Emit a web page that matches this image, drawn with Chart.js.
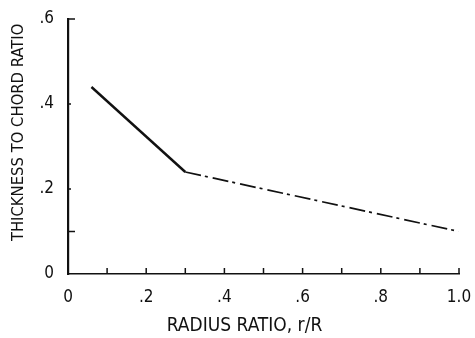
<!DOCTYPE html>
<html><head><meta charset="utf-8">
<script src="https://cdn.jsdelivr.net/npm/chart.js@4/dist/chart.umd.min.js"></script>
<style>html,body{margin:0;padding:0;background:#fff}#w{width:475px;height:338px}</style>
</head><body><div id="w"><canvas id="c"></canvas></div>
<script>
const radiusRatio = [0.06, 0.30, 1.00];
const thicknessRatio = [0.44, 0.24, 0.10];
const xTickValues = [0, 0.1, 0.2, 0.3, 0.4, 0.5, 0.6, 0.7, 0.8, 0.9, 1.0];
const xTickLabels = {0: '0', 0.2: '.2', 0.4: '.4', 0.6: '.6', 0.8: '.8', 1: '1.0'};
const yTickLabels = {0: '0', 0.2: '.2', 0.4: '.4', 0.6: '.6'};
const yMinorTicks = [0.1, 0.2, 0.4, 0.6];

const FONT = '"DejaVu Sans Condensed", "DejaVu Sans", sans-serif';

const tickPlugin = {
  id: 'innerTicks',
  afterDraw(chart) {
    const ctx = chart.ctx, xs = chart.scales.x, ys = chart.scales.y;
    ctx.save();
    ctx.strokeStyle = '#111';
    ctx.lineWidth = 1.5;
    const y0 = ys.getPixelForValue(0), x0 = xs.getPixelForValue(0);
    xTickValues.forEach(v => {
      if (v === 0) return;
      const px = xs.getPixelForValue(v);
      ctx.beginPath(); ctx.moveTo(px, y0); ctx.lineTo(px, y0 - 6); ctx.stroke();
    });
    yMinorTicks.forEach(v => {
      const py = ys.getPixelForValue(v);
      const len = (v === 0.1 || v === 0.6) ? 7 : 3;
      ctx.beginPath(); ctx.moveTo(x0, py); ctx.lineTo(x0 + len, py); ctx.stroke();
    });
    ctx.restore();
  }
};

new Chart(document.getElementById('c'), {
  type: 'line',
  data: {
    datasets: [{
      data: radiusRatio.map((x, i) => ({x, y: thicknessRatio[i]})),
      borderColor: '#111',
      borderWidth: 2.4,
      pointRadius: 0,
      fill: false,
      tension: 0,
      segment: {
        borderDash: c => c.p0DataIndex >= 1 ? [16, 4, 3, 5] : undefined,
        borderWidth: c => c.p0DataIndex >= 1 ? 1.7 : 2.4
      }
    }]
  },
  options: {
    responsive: true,
    maintainAspectRatio: false,
    animation: false,
    events: [],
    layout: {padding: {left: 0, top: 19, right: 16, bottom: 0}},
    plugins: {legend: {display: false}, tooltip: {enabled: false}},
    scales: {
      x: {
        type: 'linear', min: 0, max: 1,
        afterBuildTicks: s => { s.ticks = xTickValues.map(v => ({value: v})); },
        afterFit: s => { s.height = 64; s.paddingRight = 0; },
        grid: {display: false},
        border: {display: true, color: '#111', width: 1.5},
        ticks: {
          autoSkip: false, maxRotation: 0, padding: 5, color: '#111',
          font: {family: FONT, size: 17},
          callback: v => { const k = Math.round(v * 10) / 10; return xTickLabels[k] !== undefined ? xTickLabels[k] : ''; }
        },
        title: {display: true, text: 'RADIUS RATIO, r/R       ', color: '#111',
          font: {family: FONT, size: 19}, padding: {top: 0, bottom: 1}}
      },
      y: {
        type: 'linear', min: 0, max: 0.6,
        afterBuildTicks: s => { s.ticks = [0, 0.2, 0.4, 0.6].map(v => ({value: v})); },
        afterFit: s => { s.width = 68; },
        grid: {display: false},
        border: {display: true, color: '#111', width: 2.2},
        ticks: {
          padding: 6, color: '#111',
          font: {family: FONT, size: 17},
          callback: v => { const k = Math.round(v * 10) / 10; return yTickLabels[k] !== undefined ? yTickLabels[k] : ''; }
        },
        title: {display: true, text: '      THICKNESS TO CHORD RATIO', color: '#111',
          font: {family: FONT, size: 16.5}, padding: {top: 9, bottom: 4}}
      }
    }
  },
  plugins: [tickPlugin]
});
</script>
</body></html>
